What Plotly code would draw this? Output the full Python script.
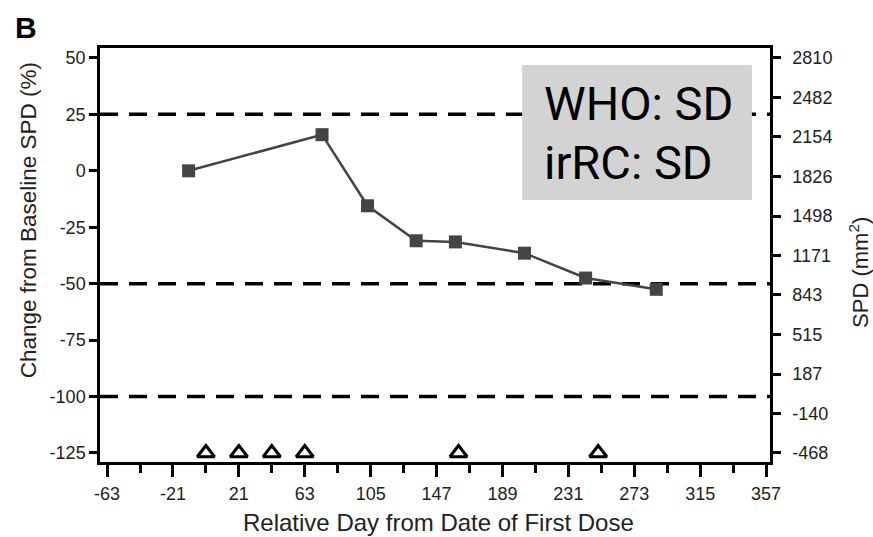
import plotly.graph_objects as go

# ---- data ----
days = [-11, 74, 103, 134, 159, 203, 242, 287]
pct_change = [0, 16, -15.5, -31, -31.5, -36.5, -47.5, -52.5]
dose_days = [0, 21, 42, 63, 161, 250]
dose_level = -125
threshold_lines = [25, -50, -100]

left_ticks = [50, 25, 0, -25, -50, -75, -100, -125]
x_ticks = [-63, -21, 21, 63, 105, 147, 189, 231, 273, 315, 357]
spd_ticks = [2810, 2482, 2154, 1826, 1498, 1171, 843, 515, 187, -140, -468]
baseline_spd = 2810 / 1.5

x_range = [-67.5, 359.5]
y_range = [-129, 54.4]
spd_range = [baseline_spd * (1 + v / 100) for v in y_range]

FONT = "Liberation Sans, Arial, sans-serif"
TXT = "#222222"

fig = go.Figure()

fig.add_trace(go.Scatter(
    x=days, y=pct_change, mode="lines+markers",
    line=dict(color="#444444", width=2.5),
    marker=dict(symbol="square", size=13, color="#444444"),
    showlegend=False, hoverinfo="x+y"))

fig.add_trace(go.Scatter(
    x=dose_days, y=[dose_level] * len(dose_days), mode="markers",
    marker=dict(symbol="triangle-up-open", size=15, color="black",
                line=dict(width=3, color="black")),
    showlegend=False))

# invisible trace to bind the right SPD axis
fig.add_trace(go.Scatter(
    x=days, y=[baseline_spd * (1 + p / 100) for p in pct_change],
    yaxis="y2", mode="markers", marker=dict(opacity=0),
    showlegend=False, hoverinfo="skip"))

for lvl in threshold_lines:
    fig.add_shape(type="line", xref="paper", x0=0, x1=1, yref="y", y0=lvl, y1=lvl,
                  line=dict(color="black", width=3.5, dash="18px,11px"), layer="below")

fig.add_shape(type="rect", xref="paper", yref="paper",
              x0=0.630, x1=0.973, y0=0.633, y1=0.959,
              fillcolor="#d3d3d3", line=dict(width=0), layer="above")

fig.add_annotation(text="WHO: SD", xref="paper", yref="paper", x=0.6597, y=0.866,
                   xanchor="left", yanchor="middle", showarrow=False,
                   font=dict(family="Roboto, sans-serif", size=47, color="black"))
fig.add_annotation(text="irRC: SD", xref="paper", yref="paper", x=0.6597, y=0.723,
                   xanchor="left", yanchor="middle", showarrow=False,
                   font=dict(family="Roboto, sans-serif", size=47, color="black"))

fig.add_annotation(text="<b>B</b>", xref="paper", yref="paper", x=-0.110, y=1.050,
                   xanchor="center", yanchor="middle", showarrow=False,
                   font=dict(family=FONT, size=30, color="black"))
fig.add_annotation(text="Change from Baseline SPD (%)", textangle=-90,
                   xref="paper", yref="paper", x=-0.107, y=0.5845,
                   xanchor="center", yanchor="middle", showarrow=False,
                   font=dict(family=FONT, size=22.5, color=TXT))
fig.add_annotation(text="Relative Day from Date of First Dose",
                   xref="paper", yref="paper", x=0.5045, y=-0.147,
                   xanchor="center", yanchor="middle", showarrow=False,
                   font=dict(family=FONT, size=24, color=TXT))
fig.add_annotation(text="SPD (mm<sup>2</sup>)", textangle=-90,
                   xref="paper", yref="paper", x=1.1328, y=0.459,
                   xanchor="center", yanchor="middle", showarrow=False,
                   font=dict(family=FONT, size=22, color=TXT))

fig.update_layout(
    width=873, height=537,
    margin=dict(l=100, r=103, t=48, b=75),
    plot_bgcolor="white", paper_bgcolor="white",
    xaxis=dict(range=x_range, tickvals=x_ticks, ticktext=[str(v) for v in x_ticks],
               showgrid=False, zeroline=False, showline=True, mirror=True,
               linecolor="black", linewidth=2.5,
               ticks="outside", ticklen=12, tickwidth=3, tickcolor="black",
               ticklabelstandoff=2,
               minor=dict(tick0=0, dtick=42, ticks="outside", ticklen=8,
                          tickwidth=3, tickcolor="black", showgrid=False),
               tickfont=dict(family=FONT, size=18, color=TXT)),
    yaxis=dict(range=y_range, tickvals=left_ticks, ticktext=[str(v) for v in left_ticks],
               showgrid=False, zeroline=False, showline=True,
               linecolor="black", linewidth=2.5,
               ticks="outside", ticklen=8, tickwidth=3, tickcolor="black",
               ticklabelstandoff=0,
               tickfont=dict(family=FONT, size=18, color=TXT)),
    yaxis2=dict(range=spd_range, overlaying="y", side="right",
                tickvals=spd_ticks, ticktext=[str(v) for v in spd_ticks],
                showgrid=False, zeroline=False, showline=True,
                linecolor="black", linewidth=2.5,
                ticks="outside", ticklen=8, tickwidth=3, tickcolor="black",
                ticklabelstandoff=8,
                tickfont=dict(family=FONT, size=18, color=TXT)),
)

fig.write_html("out.html")
